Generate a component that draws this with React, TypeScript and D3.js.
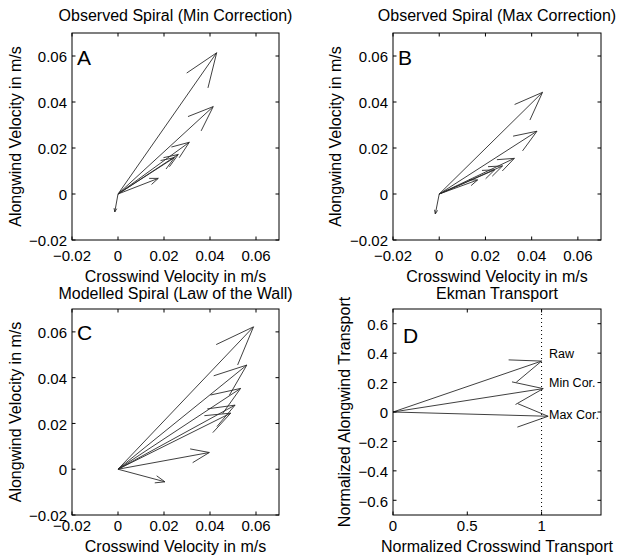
import React from "react";
import * as d3 from "d3";

// ---------- data ----------
const spiralTicks = [-0.02, 0, 0.02, 0.04, 0.06];
const spiralTickLabels = ["\u22120.02", "0", "0.02", "0.04", "0.06"];
const spiralDomain = [-0.02, 0.07];

const aU = [0.0429, 0.0414, 0.031, 0.0262, 0.0245, 0.0175, -0.0014];
const aV = [0.0614, 0.038, 0.0225, 0.0172, 0.0158, 0.0068, -0.0078];

const bU = [0.0447, 0.0423, 0.0325, 0.0274, 0.024, 0.0166, -0.0017];
const bV = [0.0442, 0.0273, 0.0155, 0.0122, 0.0105, 0.0061, -0.0087];

const cU = [0.0589, 0.056, 0.0533, 0.0509, 0.049, 0.0397, 0.0204];
const cV = [0.0622, 0.0455, 0.0353, 0.028, 0.0245, 0.0073, -0.0055];

const dU = [1.0, 1.011, 1.044];
const dV = [0.346, 0.159, -0.029];
const dLabels = ["Raw", "Min Cor.", "Max Cor."];
const dLabelX = [1.05, 1.05, 1.05];
const dLabelY = [0.4, 0.2, -0.02];
const dRefLineX = 1;

const dXTicks = [0, 0.5, 1];
const dXTickLabels = ["0", "0.5", "1"];
const dYTicks = [-0.6, -0.4, -0.2, 0, 0.2, 0.4, 0.6];
const dYTickLabels = ["\u22120.6", "\u22120.4", "\u22120.2", "0", "0.2", "0.4", "0.6"];
const dXDomain = [0, 1.4];
const dYDomain = [-0.7, 0.7];

// ---------- style ----------
const FONT = "'Liberation Sans', Arial, Helvetica, sans-serif";
const TICK_FS = 15;
const LABEL_FS = 16;
const LETTER_FS = 21;
const TICK_LEN = 3.5;
const HEAD_FRAC = 0.21;
const HEAD_ANGLE = (21 * Math.PI) / 180;
const ARROW_COLOR = "#2a2a2a";

type PanelProps = {
  x0: number; x1: number; y0: number; y1: number;
  xDomain: number[]; yDomain: number[];
  xTicks: number[]; xTickLabels: string[];
  yTicks: number[]; yTickLabels: string[];
  xTickOffset: number;
  us: number[]; vs: number[];
  title: string; titleY: number;
  xLabel: string; xLabelY: number;
  yLabel: string; yLabelX: number;
  letter: string; letterX: number; letterY: number;
  children?: (x: d3.ScaleLinear<number, number>, y: d3.ScaleLinear<number, number>) => React.ReactNode;
};

function Arrow({ x1, y1, x2, y2 }: { x1: number; y1: number; x2: number; y2: number }) {
  const dx = x1 - x2;
  const dy = y1 - y2;
  const len = Math.hypot(dx, dy);
  const ang = Math.atan2(dy, dx);
  const hl = len * HEAD_FRAC;
  const b1x = x2 + hl * Math.cos(ang + HEAD_ANGLE);
  const b1y = y2 + hl * Math.sin(ang + HEAD_ANGLE);
  const b2x = x2 + hl * Math.cos(ang - HEAD_ANGLE);
  const b2y = y2 + hl * Math.sin(ang - HEAD_ANGLE);
  const p = d3.path();
  p.moveTo(x1, y1);
  p.lineTo(x2, y2);
  p.moveTo(b1x, b1y);
  p.lineTo(x2, y2);
  p.lineTo(b2x, b2y);
  return <path d={p.toString()} fill="none" stroke={ARROW_COLOR} strokeWidth={0.9} />;
}

function Panel(props: PanelProps) {
  const { x0, x1, y0, y1 } = props;
  const x = d3.scaleLinear().domain(props.xDomain).range([x0, x1]);
  const y = d3.scaleLinear().domain(props.yDomain).range([y1, y0]);
  const cx = (x0 + x1) / 2;
  const cy = (y0 + y1) / 2;
  return (
    <g fontFamily={FONT} fill="#000">
      {props.us.map((u, i) => (
        <Arrow key={i} x1={x(0)} y1={y(0)} x2={x(u)} y2={y(props.vs[i])} />
      ))}
      {props.children && props.children(x, y)}
      <rect x={x0} y={y0} width={x1 - x0} height={y1 - y0} fill="none" stroke="#000" strokeWidth={1} />
      {props.xTicks.map((t, i) => (
        <g key={"xt" + i}>
          <line x1={x(t)} x2={x(t)} y1={y1} y2={y1 - TICK_LEN} stroke="#000" />
          <line x1={x(t)} x2={x(t)} y1={y0} y2={y0 + TICK_LEN} stroke="#000" />
          <text x={x(t)} y={y1 + props.xTickOffset} fontSize={TICK_FS} textAnchor="middle">
            {props.xTickLabels[i]}
          </text>
        </g>
      ))}
      {props.yTicks.map((t, i) => (
        <g key={"yt" + i}>
          <line x1={x0} x2={x0 + TICK_LEN} y1={y(t)} y2={y(t)} stroke="#000" />
          <line x1={x1} x2={x1 - TICK_LEN} y1={y(t)} y2={y(t)} stroke="#000" />
          <text x={x0 - 5} y={y(t) + 1} dy="0.35em" fontSize={TICK_FS} textAnchor="end">
            {props.yTickLabels[i]}
          </text>
        </g>
      ))}
      <text x={cx} y={props.titleY} fontSize={LABEL_FS} textAnchor="middle">{props.title}</text>
      <text x={cx} y={props.xLabelY} fontSize={LABEL_FS} textAnchor="middle">{props.xLabel}</text>
      <text
        transform={`translate(${props.yLabelX},${cy}) rotate(-90)`}
        fontSize={LABEL_FS}
        textAnchor="middle"
      >
        {props.yLabel}
      </text>
      <text x={props.letterX} y={props.letterY} fontSize={LETTER_FS}>{props.letter}</text>
    </g>
  );
}

export default function App() {
  return (
    <svg
      width={620}
      height={559}
      style={{ position: "absolute", left: 0, top: 0, background: "#fff" }}
    >
      <rect x={0} y={0} width={620} height={559} fill="#fff" />
      <Panel
        x0={72} x1={279} y0={33} y1={240}
        xDomain={spiralDomain} yDomain={spiralDomain}
        xTicks={spiralTicks} xTickLabels={spiralTickLabels}
        yTicks={spiralTicks} yTickLabels={spiralTickLabels}
        xTickOffset={21}
        us={aU} vs={aV}
        title="Observed Spiral (Min Correction)" titleY={21}
        xLabel="Crosswind Velocity in m/s" xLabelY={282}
        yLabel="Alongwind Velocity in m/s" yLabelX={21}
        letter="A" letterX={77} letterY={65}
      />
      <Panel
        x0={393} x1={601} y0={33} y1={240}
        xDomain={spiralDomain} yDomain={spiralDomain}
        xTicks={spiralTicks} xTickLabels={spiralTickLabels}
        yTicks={spiralTicks} yTickLabels={spiralTickLabels}
        xTickOffset={21}
        us={bU} vs={bV}
        title="Observed Spiral (Max Correction)" titleY={21}
        xLabel="Crosswind Velocity in m/s" xLabelY={282}
        yLabel="Alongwind Velocity in m/s" yLabelX={341}
        letter="B" letterX={398} letterY={65}
      />
      <Panel
        x0={72} x1={279} y0={309} y1={515}
        xDomain={spiralDomain} yDomain={spiralDomain}
        xTicks={spiralTicks} xTickLabels={spiralTickLabels}
        yTicks={spiralTicks} yTickLabels={spiralTickLabels}
        xTickOffset={16}
        us={cU} vs={cV}
        title="Modelled Spiral (Law of the Wall)" titleY={299}
        xLabel="Crosswind Velocity in m/s" xLabelY={552}
        yLabel="Alongwind Velocity in m/s" yLabelX={21}
        letter="C" letterX={77} letterY={340}
      />
      <Panel
        x0={393} x1={601} y0={309} y1={515}
        xDomain={dXDomain} yDomain={dYDomain}
        xTicks={dXTicks} xTickLabels={dXTickLabels}
        yTicks={dYTicks} yTickLabels={dYTickLabels}
        xTickOffset={16}
        us={dU} vs={dV}
        title="Ekman Transport" titleY={299}
        xLabel="Normalized Crosswind Transport" xLabelY={552}
        yLabel="Normalized Alongwind Transport" yLabelX={350}
        letter="D" letterX={403} letterY={343}
      >
        {(x, y) => (
          <g>
            <line
              x1={x(dRefLineX)} x2={x(dRefLineX)} y1={y(dYDomain[0])} y2={y(dYDomain[1])}
              stroke="#000" strokeWidth={1} strokeDasharray="1,3"
            />
            {dLabels.map((l, i) => (
              <text key={l} x={x(dLabelX[i])} y={y(dLabelY[i])} dy="0.35em" fontSize={12.5}>
                {l}
              </text>
            ))}
          </g>
        )}
      </Panel>
    </svg>
  );
}
